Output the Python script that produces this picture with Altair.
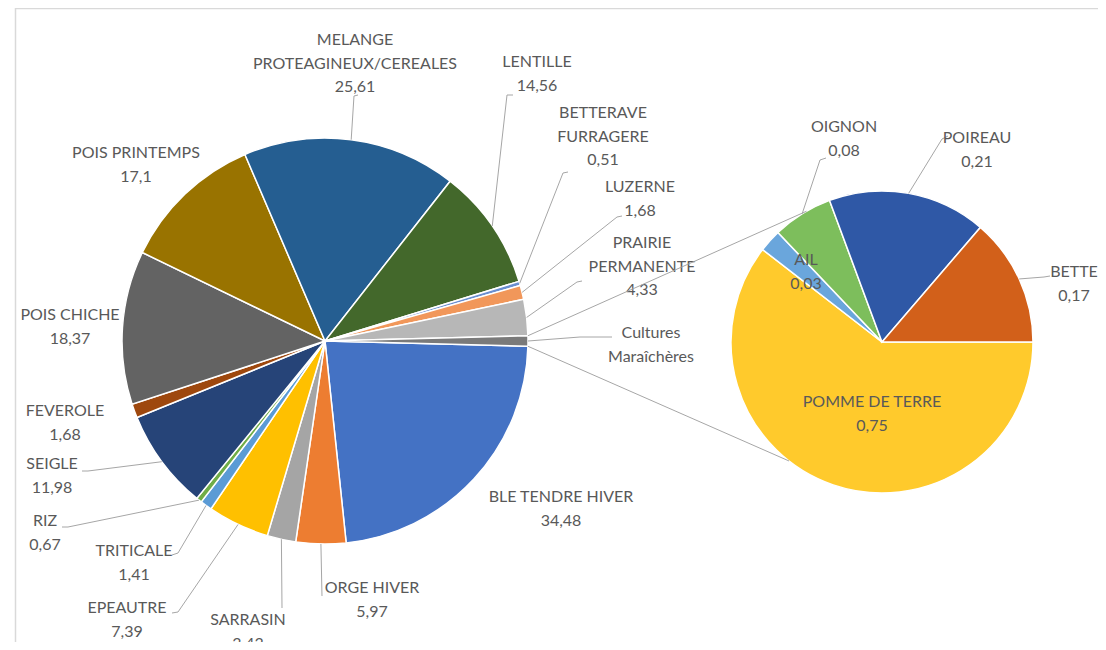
import math
import altair as alt
import pandas as pd

# ---------------- data ----------------
MAIN_NAMES = ["BLE TENDRE HIVER", "ORGE HIVER", "SARRASIN", "EPEAUTRE", "TRITICALE", "RIZ",
              "SEIGLE", "FEVEROLE", "POIS CHICHE", "POIS PRINTEMPS",
              "MELANGE PROTEAGINEUX/CEREALES", "LENTILLE", "BETTERAVE FURRAGERE", "LUZERNE",
              "PRAIRIE PERMANENTE", "Cultures Maraîchères"]
MAIN_VALUES = [34.48, 5.97, 3.43, 7.39, 1.41, 0.67, 11.98, 1.68, 18.37, 17.1,
               25.61, 14.56, 0.51, 1.68, 4.33]          # last slice = sum of SUB_VALUES
SUB_NAMES = ["POMME DE TERRE", "AIL", "OIGNON", "POIREAU", "BETTE"]
SUB_VALUES = [0.75, 0.03, 0.08, 0.21, 0.17]

# ---------------- styles ----------------
MAIN_COLORS = ["#4472C4", "#ED7D31", "#A5A5A5", "#FFC000", "#5B9BD5", "#70AD47",
               "#264478", "#9E480E", "#636363", "#997300", "#255E91", "#43682B",
               "#698ED0", "#F1975A", "#B7B7B7", "#7A7A7A"]
SUB_COLORS = ["#FFCA2C", "#6AA6DC", "#7DBE5C", "#2F58A6", "#D2601A"]

# label line breaks (display)
MAIN_DISPLAY = ["BLE TENDRE HIVER", "ORGE HIVER", "SARRASIN", "EPEAUTRE", "TRITICALE", "RIZ",
                "SEIGLE", "FEVEROLE", "POIS CHICHE", "POIS PRINTEMPS",
                "MELANGE\nPROTEAGINEUX/CEREALES", "LENTILLE", "BETTERAVE\nFURRAGERE", "LUZERNE",
                "PRAIRIE\nPERMANENTE", "Cultures\nMaraîchères"]
SHOW_VALUE = [True] * 15 + [False]

# ---------------- layout (page pixel coordinates) ----------------
OFF = 8
W, H = 1090, 634
MAIN_C, MAIN_R = (325, 341), 203
SUB_C, SUB_R = (882, 342), 151
SUB_CONNECT_DEG = [330, 218]

# first-line centre of label, leader elbow, leader end (None = no leader)
MAIN_LAYOUT = [
    ((561, 497), None, None),
    ((372, 588), (322, 596), (322, 596)),
    ((248, 620), (282, 608), (282, 608)),
    ((127, 608), (178, 612), (172, 613)),
    ((134, 551), (178, 553), (172, 555)),
    ((45, 521), (68, 527), (62, 527)),
    ((52, 464), (88, 471), (82, 471)),
    ((65, 411), None, None),
    ((70, 315), None, None),
    ((136, 153), None, None),
    ((355, 40), (354, 96), (358, 95)),
    ((537, 62), (507, 95), (513, 95)),
    ((603, 113), (563, 173), (568, 172)),
    ((640, 187), (617, 217), (622, 216)),
    ((642, 243), (577, 282), (582, 281)),
    ((651, 333), (580, 337), (612, 337)),
]
SUB_LAYOUT = [
    ((872, 402), None, None),
    ((806, 260), None, None),
    ((844, 127), (820, 160), (826, 158)),
    ((977, 138), (942, 139), (948, 136)),
    ((1074, 272), (1044, 277), (1050, 276)),
]

FONT = "Lato"


def fmt(v):
    return ("%g" % v).replace(".", ",")


cultures = round(sum(SUB_VALUES), 2)
main_vals = MAIN_VALUES + [cultures]
main_total = sum(main_vals)
sub_total = sum(SUB_VALUES)

half = cultures / main_total * math.pi
main_off = math.pi / 2 + half
sub_off = math.pi / 2


def mids(vals, total, off):
    out, cum = [], 0.0
    for v in vals:
        out.append(off + (cum + v / 2) / total * 2 * math.pi)
        cum += v
    return out


def pt(c, r, a):
    return (c[0] + r * math.sin(a), c[1] - r * math.cos(a))


main_df = pd.DataFrame({"name": MAIN_NAMES, "value": main_vals, "color": MAIN_COLORS,
                        "idx": list(range(len(main_vals)))})
sub_df = pd.DataFrame({"name": SUB_NAMES, "value": SUB_VALUES, "color": SUB_COLORS,
                       "idx": list(range(len(SUB_VALUES)))})

texts = []
segs = []
for name, disp, v, show, lay, a in zip(MAIN_NAMES, MAIN_DISPLAY, main_vals, SHOW_VALUE,
                                         MAIN_LAYOUT, mids(main_vals, main_total, main_off)):
    t = disp + ("\n" + fmt(v) if show else "")
    texts.append({"text": t, "x": lay[0][0], "y": lay[0][1]})
    if lay[1] is not None:
        s = pt(MAIN_C, MAIN_R, a)
        segs.append({"x": s[0], "y": s[1], "x2": lay[1][0], "y2": lay[1][1]})
        segs.append({"x": lay[1][0], "y": lay[1][1], "x2": lay[2][0], "y2": lay[2][1]})
for name, v, lay, a in zip(SUB_NAMES, SUB_VALUES, SUB_LAYOUT, mids(SUB_VALUES, sub_total, sub_off)):
    texts.append({"text": name + "\n" + fmt(v), "x": lay[0][0], "y": lay[0][1]})
    if lay[1] is not None:
        s = pt(SUB_C, SUB_R, a)
        segs.append({"x": s[0], "y": s[1], "x2": lay[1][0], "y2": lay[1][1]})
        segs.append({"x": lay[1][0], "y": lay[1][1], "x2": lay[2][0], "y2": lay[2][1]})

conn = []
for a_main, deg in zip([math.pi / 2 - half, math.pi / 2 + half], SUB_CONNECT_DEG):
    s = pt(MAIN_C, MAIN_R, a_main)
    e = pt(SUB_C, SUB_R, math.radians(deg))
    conn.append({"x": s[0], "y": s[1], "x2": e[0], "y2": e[1]})

frame = [{"x": 15, "y": 8.5, "x2": 1106, "y2": 8.5},
         {"x": 15.5, "y": 8, "x2": 15.5, "y2": 650}]

XS = alt.Scale(domain=[OFF, OFF + W], range=[0, W], nice=False, zero=False)
YS = alt.Scale(domain=[OFF, OFF + H], range=[0, H], nice=False, zero=False)


def seg_layer(rows, color, width):
    return alt.Chart(pd.DataFrame(rows)).mark_rule(color=color, strokeWidth=width).encode(
        x=alt.X("x:Q", scale=XS, axis=None), y=alt.Y("y:Q", scale=YS, axis=None),
        x2="x2:Q", y2="y2:Q")


main_arc = alt.Chart(main_df).mark_arc(outerRadius=MAIN_R, stroke="white", strokeWidth=1.5).encode(
    theta=alt.Theta("value:Q", stack=True,
                    scale=alt.Scale(domain=[0, main_total], range=[main_off, main_off + 2 * math.pi])),
    order=alt.Order("idx:Q"),
    color=alt.Color("color:N", scale=None),
    x=alt.value(MAIN_C[0] - OFF), y=alt.value(MAIN_C[1] - OFF))

sub_arc = alt.Chart(sub_df).mark_arc(outerRadius=SUB_R, stroke="white", strokeWidth=1.5).encode(
    theta=alt.Theta("value:Q", stack=True,
                    scale=alt.Scale(domain=[0, sub_total], range=[sub_off, sub_off + 2 * math.pi])),
    order=alt.Order("idx:Q"),
    color=alt.Color("color:N", scale=None),
    x=alt.value(SUB_C[0] - OFF), y=alt.value(SUB_C[1] - OFF))

text_layer = alt.Chart(pd.DataFrame(texts)).mark_text(
    font=FONT, fontSize=16, color="#595959", lineBreak="\n", lineHeight=23.5,
    align="center", baseline="middle").encode(
    x=alt.X("x:Q", scale=XS, axis=None), y=alt.Y("y:Q", scale=YS, axis=None), text="text:N")

chart = alt.layer(
    seg_layer(frame, "#D9D9D9", 1.5),
    main_arc, sub_arc,
    seg_layer(segs, "#A6A6A6", 1),
    text_layer,
    seg_layer(conn, "#A6A6A6", 1),
).resolve_scale(theta="independent").properties(
    width=W, height=H, autosize=alt.AutoSizeParams(type="none"), padding=0,
    background="white"
).configure_view(stroke=None)

chart.save("out.html", embed_options={"renderer": "svg", "actions": False})
